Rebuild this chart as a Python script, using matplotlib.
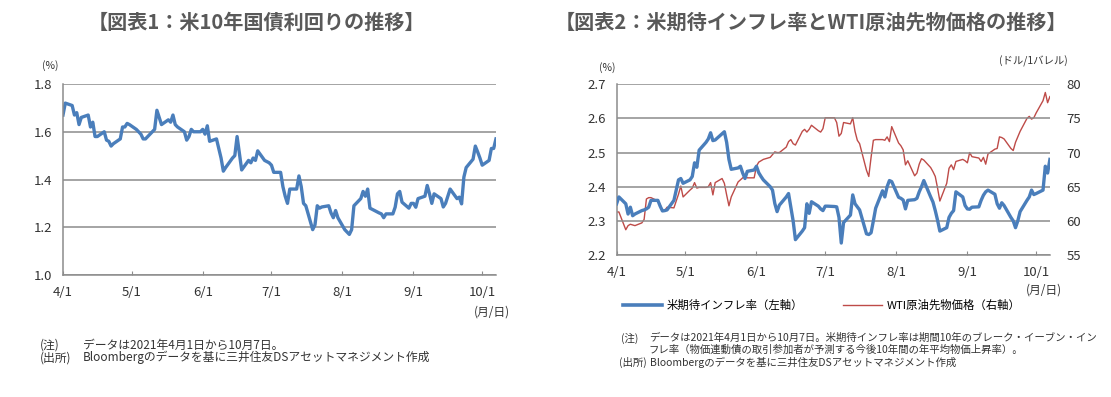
import pandas as pd
import matplotlib
matplotlib.use("Agg")
import matplotlib.pyplot as plt
from matplotlib.lines import Line2D

plt.rcParams['font.family'] = ['Noto Sans CJK JP', 'DejaVu Sans']

# business days 2021-04-01 .. 2021-10-07
dates = pd.bdate_range("2021-04-01", "2021-10-07")

# US 10y yield (%)
ust10y = [1.67, 1.72,
          1.71, 1.67, 1.68, 1.63, 1.66,
          1.67, 1.62, 1.64, 1.58, 1.58,
          1.60, 1.565, 1.56, 1.54, 1.55,
          1.57, 1.62, 1.62, 1.635, 1.63,
          1.61, 1.60, 1.59, 1.57, 1.57,
          1.60, 1.61, 1.69, 1.66, 1.63,
          1.65, 1.64, 1.67, 1.63, 1.62,
          1.60, 1.565, 1.58, 1.61, 1.60,
          1.60, 1.61, 1.59, 1.625, 1.56,
          1.57, 1.53, 1.49, 1.435, 1.45,
          1.49, 1.50, 1.58, 1.51, 1.44,
          1.48, 1.47, 1.49, 1.48, 1.52,
          1.48, 1.475, 1.47, 1.46, 1.43,
          1.43, 1.37, 1.33, 1.30, 1.36,
          1.36, 1.415, 1.37, 1.30, 1.29,
          1.19, 1.21, 1.29, 1.28, 1.285,
          1.29, 1.26, 1.24, 1.27, 1.24,
          1.19, 1.18, 1.17, 1.19, 1.29,
          1.32, 1.35, 1.33, 1.36, 1.28,
          1.265, 1.26, 1.256, 1.24, 1.256,
          1.256, 1.284, 1.34, 1.35, 1.305,
          1.28, 1.30, 1.30, 1.284, 1.32,
          1.33, 1.375, 1.34, 1.30, 1.34,
          1.32, 1.285, 1.30, 1.33, 1.36,
          1.32, 1.326, 1.298, 1.41, 1.45,
          1.485, 1.54, 1.516, 1.49, 1.46,
          1.48, 1.53, 1.53, 1.57]

# 10y breakeven inflation (%)
bei10y = [2.35, 2.37,
          2.35, 2.32, 2.34, 2.315, 2.32,
          2.33, 2.332, 2.335, 2.34, 2.36,
          2.36, 2.343, 2.329, 2.33, 2.332,
          2.36, 2.39, 2.42, 2.424, 2.41,
          2.42, 2.43, 2.47, 2.457, 2.507,
          2.53, 2.54, 2.558, 2.535, 2.537,
          2.555, 2.561, 2.53, 2.48, 2.451,
          2.455, 2.46, 2.44, 2.424, 2.445,
          2.449, 2.46, 2.441, 2.43, 2.42,
          2.40, 2.39, 2.351, 2.327, 2.346,
          2.37, 2.38, 2.34, 2.30, 2.245,
          2.27, 2.28, 2.35, 2.322, 2.356,
          2.343, 2.335, 2.33, 2.343, 2.343,
          2.342, 2.341, 2.31, 2.235, 2.295,
          2.317, 2.376, 2.35, 2.341, 2.332,
          2.262, 2.26, 2.265, 2.30, 2.337,
          2.388, 2.37, 2.40, 2.418, 2.415,
          2.369, 2.366, 2.361, 2.335, 2.36,
          2.362, 2.366, 2.385, 2.40, 2.418,
          2.37, 2.355, 2.33, 2.302, 2.27,
          2.28, 2.31, 2.322, 2.33, 2.385,
          2.37, 2.345, 2.335, 2.334, 2.34,
          2.341, 2.36, 2.375, 2.385, 2.39,
          2.378, 2.35, 2.337, 2.353, 2.345,
          2.31, 2.30, 2.28, 2.30, 2.327,
          2.36, 2.37, 2.39, 2.377, 2.38,
          2.39, 2.46, 2.44, 2.48]

# WTI crude futures (USD/bbl)
wti = [61.3, 61.3,
       58.7, 59.3, 59.5, 59.4, 59.3,
       59.7, 60.2, 63.2, 63.4, 63.4,
       62.9, 62.4, 61.4, 61.5, 62.0,
       61.9, 62.9, 63.9, 65.1, 63.5,
       64.5, 64.8, 65.6, 64.8, 64.9,
       64.9, 65.0, 65.6, 63.8, 65.6,
       66.2, 65.5, 63.8, 62.2, 63.5,
       65.7, 66.0, 66.3, 66.5, 66.3,
       66.3, 68.0, 68.6, 68.8, 69.0,
       69.3, 69.7, 70.1, 70.0, 70.0,
       70.8, 71.6, 71.9, 71.3, 71.1,
       73.1, 73.4, 73.0, 73.4, 74.0,
       73.2, 73.0, 73.5, 75.1, 75.1,
       75.1, 74.4, 72.4, 72.8, 74.4,
       74.2, 75.1, 73.1, 71.8, 71.3,
       67.4, 66.5, 69.3, 71.8, 71.9,
       71.9, 71.8, 72.3, 71.6, 73.8,
       71.4, 71.0, 70.4, 68.2, 68.8,
       66.6, 67.0, 68.3, 69.1, 68.9,
       67.8, 67.2, 66.5, 64.8, 62.9,
       65.5, 67.7, 68.2, 67.5, 68.7,
       69.0, 68.8, 68.5, 70.0, 69.4,
       69.2, 68.7, 69.3, 68.3, 69.8,
       70.5, 70.6, 72.3, 72.2, 72.0,
       70.6, 70.3, 71.5, 72.3, 73.1,
       75.0, 75.3, 74.9, 75.1, 75.8,
       77.6, 78.8, 77.3, 78.2]

tick_dates = pd.to_datetime(["2021-04-01", "2021-05-01", "2021-06-01", "2021-07-01",
                             "2021-08-01", "2021-09-01", "2021-10-01"])
tick_labels = ["4/1", "5/1", "6/1", "7/1", "8/1", "9/1", "10/1"]

BLUE = '#4a7ebb'
RED = '#be4b48'
GRID = '#8c8c8c'
TXT = '#333333'

fig = plt.figure(figsize=(11.11, 3.97), dpi=100)


def style_axes(ax):
    ax.set_xlim(dates[0], dates[-1])
    ax.set_xticks(tick_dates)
    ax.set_xticklabels(tick_labels)
    ax.tick_params(axis='x', direction='in', length=3, color=GRID, pad=8,
                   labelsize=9.5, labelcolor=TXT)
    ax.tick_params(axis='y', length=0, pad=8, labelsize=9.5, labelcolor=TXT)
    ax.grid(axis='y', color=GRID, linewidth=1.1)
    ax.set_axisbelow(True)
    for s in ['top', 'right']:
        ax.spines[s].set_visible(False)
    for s in ['left', 'bottom']:
        ax.spines[s].set_color(GRID)
        ax.spines[s].set_linewidth(1.1)


# chart 1
ax1 = fig.add_axes([0.0567, 0.3073, 0.3897, 0.4811])
ax1.plot(dates, ust10y, color=BLUE, linewidth=2.4, solid_joinstyle='round')
ax1.set_ylim(1.0, 1.8)
ax1.set_yticks([1.0, 1.2, 1.4, 1.6, 1.8])
ax1.set_yticklabels(["1.0", "1.2", "1.4", "1.6", "1.8"])
style_axes(ax1)

fig.text(0.231, 0.945, "【図表1：米10年国債利回りの推移】", ha='center', va='center',
         fontsize=14.5, fontweight='bold', color='#595959')
fig.text(0.045, 0.835, "(%)", ha='center', va='center', fontsize=7.5, color=TXT)
fig.text(0.443, 0.215, "(月/日)", ha='center', va='center', fontsize=8.5, color=TXT)

fig.text(0.036, 0.13, "(注)", ha='left', va='center', fontsize=8.5, color=TXT)
fig.text(0.0747, 0.13, "データは2021年4月1日から10月7日。", ha='left', va='center',
         fontsize=8.5, color=TXT)
fig.text(0.036, 0.099, "(出所)", ha='left', va='center', fontsize=8.5, color=TXT)
fig.text(0.0747, 0.099, "Bloombergのデータを基に三井住友DSアセットマネジメント作成",
         ha='left', va='center', fontsize=8.5, color=TXT)

# chart 2
ax2 = fig.add_axes([0.555, 0.3577, 0.39, 0.43])
ax2r = ax2.twinx()
ax2.plot(dates, bei10y, color=BLUE, linewidth=2.4, zorder=3, solid_joinstyle='round')
ax2r.plot(dates, wti, color=RED, linewidth=1.0)
ax2.set_zorder(ax2r.get_zorder() + 1)
ax2.patch.set_visible(False)
ax2.set_ylim(2.2, 2.7)
ax2.set_yticks([2.2, 2.3, 2.4, 2.5, 2.6, 2.7])
ax2.set_yticklabels(["2.2", "2.3", "2.4", "2.5", "2.6", "2.7"])
style_axes(ax2)
ax2r.set_ylim(55, 80)
ax2r.set_yticks([55, 60, 65, 70, 75, 80])
ax2r.tick_params(axis='y', length=0, pad=12, labelsize=9.5, labelcolor=TXT)
for s in ax2r.spines.values():
    s.set_visible(False)

fig.text(0.730, 0.945, "【図表2：米期待インフレ率とWTI原油先物価格の推移】", ha='center',
         va='center', fontsize=14.5, fontweight='bold', color='#595959')
fig.text(0.547, 0.83, "(%)", ha='center', va='center', fontsize=7.5, color=TXT)
fig.text(0.93, 0.845, "(ドル/1バレル)", ha='center', va='center', fontsize=7.5, color=TXT)
fig.text(0.94, 0.27, "(月/日)", ha='center', va='center', fontsize=8.5, color=TXT)

handles = [Line2D([], [], color=BLUE, linewidth=2.6),
           Line2D([], [], color=RED, linewidth=1.0)]
fig.legend(handles, ["米期待インフレ率（左軸）", "WTI原油先物価格（右軸）"],
           loc='center left', bbox_to_anchor=(0.5607, 0.232), ncol=2, frameon=False,
           fontsize=8.2, handlelength=3.4, columnspacing=3.5, handletextpad=0.45,
           borderpad=0, borderaxespad=0)

fig.text(0.559, 0.148, "(注)", ha='left', va='center', fontsize=7.5, color=TXT)
fig.text(0.584, 0.148, "データは2021年4月1日から10月7日。米期待インフレ率は期間10年のブレーク・イーブン・イン",
         ha='left', va='center', fontsize=7.5, color=TXT)
fig.text(0.584, 0.118, "フレ率（物価連動債の取引参加者が予測する今後10年間の年平均物価上昇率）。",
         ha='left', va='center', fontsize=7.5, color=TXT)
fig.text(0.557, 0.088, "(出所)", ha='left', va='center', fontsize=7.5, color=TXT)
fig.text(0.585, 0.088, "Bloombergのデータを基に三井住友DSアセットマネジメント作成",
         ha='left', va='center', fontsize=7.5, color=TXT)

fig.savefig("out.png", dpi=100)
